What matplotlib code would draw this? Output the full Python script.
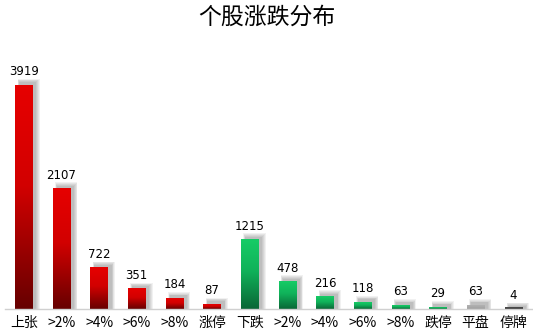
import matplotlib
matplotlib.use("Agg")
import matplotlib.pyplot as plt
import numpy as np
from matplotlib.colors import LinearSegmentedColormap
from matplotlib.patches import Rectangle

plt.rcParams['font.family'] = ['Noto Sans CJK SC', 'DejaVu Sans']

title = "个股涨跌分布"
categories = ["上张", ">2%", ">4%", ">6%", ">8%", "涨停", "下跌", ">2%", ">4%", ">6%", ">8%", "跌停", "平盘", "停牌"]
values = [3919, 2107, 722, 351, 184, 87, 1215, 478, 216, 118, 63, 29, 63, 4]
groups = ["up"] * 6 + ["down"] * 6 + ["flat", "halt"]

gradients = {
    "up": [(0, "#660000"), (0.55, "#d20000"), (1, "#e60000")],
    "down": [(0, "#0a6636"), (0.55, "#10b25a"), (1, "#16cc66")],
    "flat": [(0, "#a0a0a0"), (1, "#b2b2b2")],
    "halt": [(0, "#333333"), (1, "#505050")],
}

fig = plt.figure(figsize=(5.33, 3.35), dpi=100)
ax = fig.add_axes([5 / 533, 26 / 335, 527 / 533, 264 / 335])
ymax = 3919 * 264 / 224
ax.set_xlim(-0.5, len(categories) - 0.5)
ax.set_ylim(0, ymax)

w = 0.46
x = np.arange(len(categories))
grad = np.linspace(0, 1, 256).reshape(-1, 1)
px_x = 1 / 37.64
px_y = ymax / 264

for xi, v, g in zip(x, values, groups):
    # soft shadow offset to the upper right
    for k in range(5):
        pad = k * 0.8
        ax.add_patch(Rectangle((xi - w / 2 + 4 * px_x - pad * 0.5 * px_x, 0),
                               w + 1.5 * pad * px_x, v + 3 * px_y + pad * px_y,
                               facecolor="black", edgecolor="none", alpha=0.055, zorder=1))
    cmap = LinearSegmentedColormap.from_list(g, gradients[g])
    h = max(v, 1.5 * px_y)
    ax.imshow(grad, extent=[xi - w / 2, xi + w / 2, 0, h], origin="lower",
              cmap=cmap, aspect="auto", zorder=2, interpolation="bilinear")
    ax.text(xi, v + 7 * px_y, str(v), ha="center", va="bottom",
            fontsize=8.5, family="DejaVu Sans", color="black", zorder=3)

ax.set_xlim(-0.5, len(categories) - 0.5)
ax.set_ylim(0, ymax)
ax.set_xticks(x)
ax.set_xticklabels(categories, fontsize=10)
ax.tick_params(axis="x", length=0, pad=5)
ax.set_yticks([])
for s in ["top", "right", "left"]:
    ax.spines[s].set_visible(False)
ax.spines["bottom"].set_color("#d0d0d0")
ax.spines["bottom"].set_linewidth(1)
ax.spines["bottom"].set_zorder(4)

fig.text(0.5, 1 - 17 / 335, title, ha="center", va="center", fontsize=16.5)

fig.savefig("out.png", dpi=100)
